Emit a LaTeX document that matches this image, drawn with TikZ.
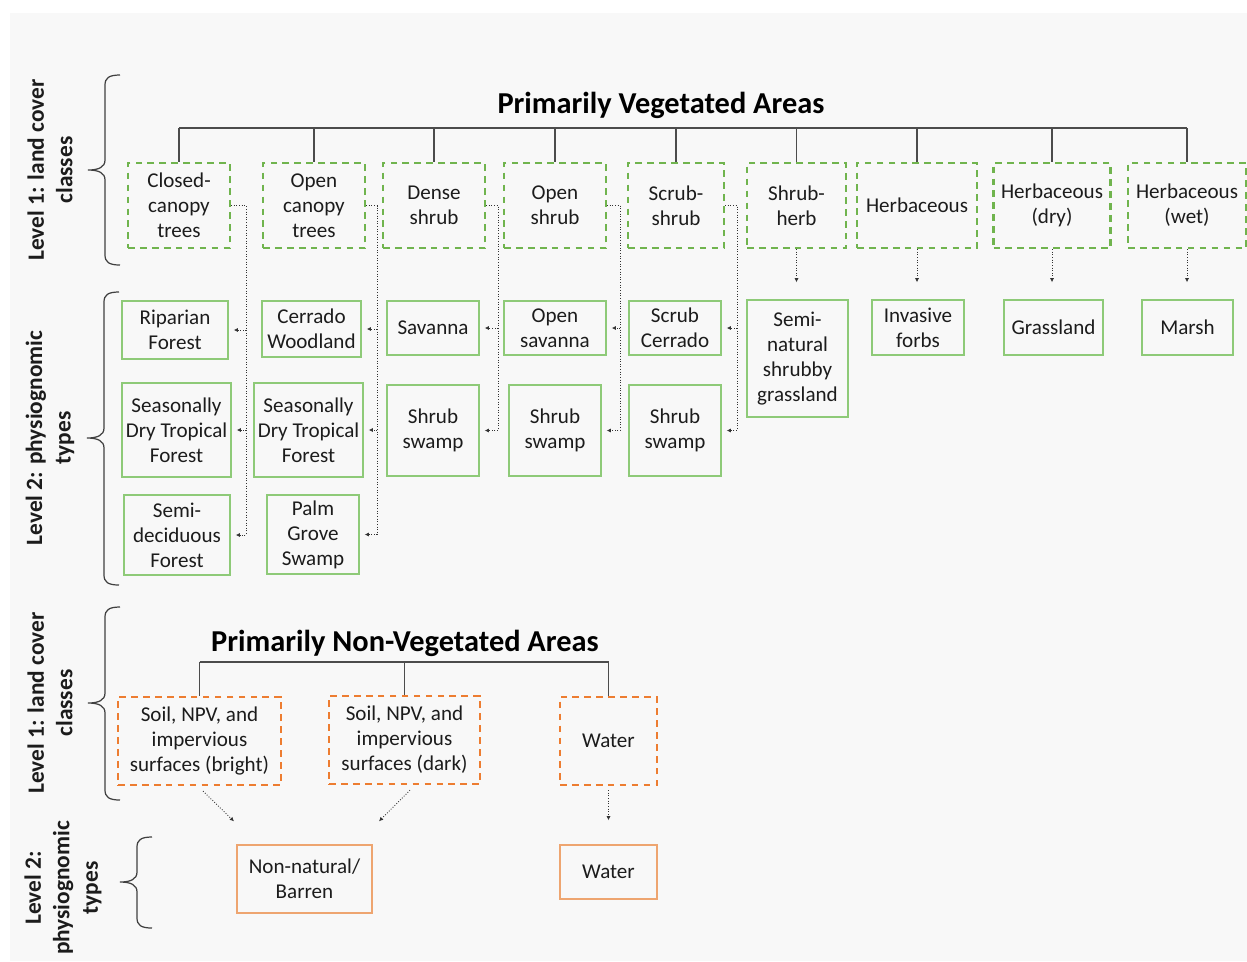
\documentclass[tikz,border=0pt]{standalone}
\usepackage{fontspec}
\setmainfont{Carlito}
\usetikzlibrary{arrows.meta}
\definecolor{vegdash}{RGB}{112,180,78}
\definecolor{vegline}{RGB}{142,202,120}
\definecolor{soildash}{RGB}{237,125,49}
\definecolor{soilline}{RGB}{238,165,112}
\definecolor{inkgray}{RGB}{28,28,28}
\definecolor{panelgray}{RGB}{248,248,248}
\tikzset{
  tree edge/.style={line width=0.9pt,draw=black!70},
  class box/.style={
    draw=vegdash,
    dash pattern=on 3.8pt off 3pt,
    line width=1.25pt,
    align=center,
    inner sep=0pt,
    text=inkgray,
    font=\fontsize{12}{14.2}\selectfont
  },
  type box/.style={
    draw=vegline,
    line width=0.8pt,
    align=center,
    inner sep=0pt,
    text=inkgray,
    font=\fontsize{12}{14.2}\selectfont
  },
  soil/.style={draw=soildash},
  soil type/.style={draw=soilline},
  box size/.style 2 args={minimum width=#1*0.02cm,minimum height=#2*0.02cm},
  link/.style={densely dotted,line width=0.5pt,draw=black!80,
    -{Latex[length=2.4pt,width=2.4pt]},shorten >=0.1cm},
  heading/.style={font=\fontsize{17.3}{20}\selectfont\bfseries,text=black},
  side label/.style={rotate=90,align=center,text=inkgray,
    font=\fontsize{13.3}{16.2}\selectfont\bfseries},
  side brace/.style={line width=0.7pt,draw=black!75}
}
\newcommand{\levelbrace}[4]{%
  \draw[side brace]
    ({#1+15},{#2}) .. controls ({#1+4},{#2}) and (#1,{#2+3}) .. (#1,{#2+10})
    -- (#1,{#4-10}) .. controls (#1,{#4-3}) and ({#1-6},{#4}) .. ({#1-17},{#4})
    .. controls ({#1-6},{#4}) and (#1,{#4+3}) .. (#1,{#4+10})
    -- (#1,{#3-10}) .. controls (#1,{#3-3}) and ({#1+4},{#3}) .. ({#1+15},{#3});%
}
\begin{document}
\begin{tikzpicture}[x=0.02cm,y=-0.02cm]
  \useasboundingbox (0,0) rectangle (1247,961);
  \fill[panelgray] (10,13) rectangle (1247,961);

  % side labels and braces
  \node[side label] (lvone) at (50,170) {Level 1: land cover\\classes};
  \node[side label] (lvtwo) at (50,438) {Level 2: physiognomic\\types};
  \node[side label] (nvone) at (50,703) {Level 1: land cover\\classes};
  \node[side label] (nvtwo) at (63,888) {Level 2:\\physiognomic\\types};
  \levelbrace{105}{75}{265}{170}
  \levelbrace{104}{292}{585}{438}
  \levelbrace{105}{607}{800}{703}
  \levelbrace{137}{837}{928}{882}

  % vegetated classes
  \node[heading] (vegtitle) at (661,105) {Primarily Vegetated Areas};
  \coordinate (vegbar) at (0,128);
  \node[class box,box size={102}{85}] (cct) at (179,205.5) {Closed-\\canopy\\trees};
  \node[class box,box size={102}{85}] (oct) at (314,205.5) {Open\\canopy\\trees};
  \node[class box,box size={102}{85}] (dsh) at (434,205.5) {Dense\\shrub};
  \node[class box,box size={102}{85}] (osh) at (555,205.5) {Open\\shrub};
  \node[class box,box size={96}{85}] (ssh) at (676,205.5) {Scrub-\\shrub};
  \node[class box,box size={99}{85}] (shh) at (796.5,205.5) {Shrub-\\herb};
  \node[class box,box size={120}{85}] (hrb) at (917,205.5) {Herbaceous};
  \node[class box,box size={117}{85}] (hdy) at (1052,205.5) {Herbaceous\\(dry)};
  \node[class box,box size={118}{85}] (hwt) at (1187,205.5) {Herbaceous\\(wet)};
  \draw[tree edge] (cct.north |- vegbar) -- (hwt.north |- vegbar);
  \foreach \n in {cct,oct,dsh,osh,ssh,shh,hrb,hdy,hwt} {
    \draw[tree edge] (\n.north) -- (\n.north |- vegbar);
  }

  % vegetated types
  \node[type box,box size={106}{58}] (rip) at (175,330) {Riparian\\Forest};
  \node[type box,box size={109}{94}] (sdta) at (176.5,430) {Seasonally\\Dry Tropical\\Forest};
  \node[type box,box size={106}{80}] (sdf) at (177,535) {Semi-\\deciduous\\Forest};
  \node[type box,box size={99}{56}] (cer) at (311.5,329) {Cerrado\\Woodland};
  \node[type box,box size={109}{94}] (sdtb) at (308.5,430) {Seasonally\\Dry Tropical\\Forest};
  \node[type box,box size={92}{79}] (pgs) at (313,534.5) {Palm\\Grove\\Swamp};
  \node[type box,box size={92}{54}] (sav) at (433,328) {Savanna};
  \node[type box,box size={92}{91}] (swa) at (433,430.5) {Shrub\\swamp};
  \node[type box,box size={102}{54}] (osv) at (555,328) {Open\\savanna};
  \node[type box,box size={92}{91}] (swb) at (555,430.5) {Shrub\\swamp};
  \node[type box,box size={92}{54}] (scc) at (675,328) {Scrub\\Cerrado};
  \node[type box,box size={92}{91}] (swc) at (675,430.5) {Shrub\\swamp};
  \node[type box,box size={101}{117}] (sng) at (797.5,358.5) {Semi-\\natural\\shrubby\\grassland};
  \node[type box,box size={92}{55}] (inf) at (918,327.5) {Invasive\\forbs};
  \node[type box,box size={99}{55}] (grs) at (1053.5,327.5) {Grassland};
  \node[type box,box size={91}{55}] (msh) at (1187.5,327.5) {Marsh};

  % dotted rails
  \path (cct.east) ++(15,0) coordinate (cctr);
  \path (oct.east) ++(11,0) coordinate (octr);
  \path (dsh.east) ++(12,0) coordinate (dshr);
  \path (osh.east) ++(13,0) coordinate (oshr);
  \path (ssh.east) ++(12,0) coordinate (sshr);
  \draw[link] (cct.east) -- (cctr) |- (sdf.east);
  \draw[link] (cctr |- rip.east) -- (rip.east);
  \draw[link] (cctr |- sdta.east) -- (sdta.east);
  \draw[link] (oct.east) -- (octr) |- (pgs.east);
  \draw[link] (octr |- cer.east) -- (cer.east);
  \draw[link] (octr |- sdtb.east) -- (sdtb.east);
  \draw[link] (dsh.east) -- (dshr) |- (swa.east);
  \draw[link] (dshr |- sav.east) -- (sav.east);
  \draw[link] (osh.east) -- (oshr) |- (swb.east);
  \draw[link] (oshr |- osv.east) -- (osv.east);
  \draw[link] (ssh.east) -- (sshr) |- (swc.east);
  \draw[link] (sshr |- scc.east) -- (scc.east);
  \draw[link,shorten >=0.34cm] (shh.south) -- (shh.south |- sng.north);
  \draw[link,shorten >=0.34cm] (hrb.south) -- (hrb.south |- inf.north);
  \draw[link,shorten >=0.34cm] (hdy.south) -- (hdy.south |- grs.north);
  \draw[link,shorten >=0.34cm] (hwt.south) -- (hwt.south |- msh.north);

  % non-vegetated classes
  \node[heading] (soiltitle) at (405,643) {Primarily Non-Vegetated Areas};
  \coordinate (soilbar) at (0,662);
  \node[class box,soil,box size={163}{88}] (sbr) at (199.5,741) {Soil, NPV, and\\impervious\\surfaces (bright)};
  \node[class box,soil,box size={151}{88}] (sdk) at (404.5,740) {Soil, NPV, and\\impervious\\surfaces (dark)};
  \node[class box,soil,box size={97}{88}] (wta) at (608.5,741) {Water};
  \draw[tree edge] (sbr.north |- soilbar) -- (wta.north |- soilbar);
  \foreach \n in {sbr,sdk,wta} {
    \draw[tree edge] (\n.north) -- (\n.north |- soilbar);
  }

  % non-vegetated types
  \node[type box,soil type,box size={135}{68}] (nnb) at (304.5,879) {Non-natural/\\Barren};
  \node[type box,soil type,box size={97}{54}] (wtb) at (608.5,872) {Water};
  \draw[link,shorten >=0pt] ([shift={(3.5,5)}]sbr.south) -- ([shift={(-70.5,-23)}]nnb.north);
  \draw[link,shorten >=0pt] ([shift={(5.5,5)}]sdk.south) -- ([shift={(74.5,-23)}]nnb.north);
  \draw[link,shorten <=0.08cm,shorten >=0.48cm] (wta.south) -- (wtb.north);

\end{tikzpicture}
\end{document}
